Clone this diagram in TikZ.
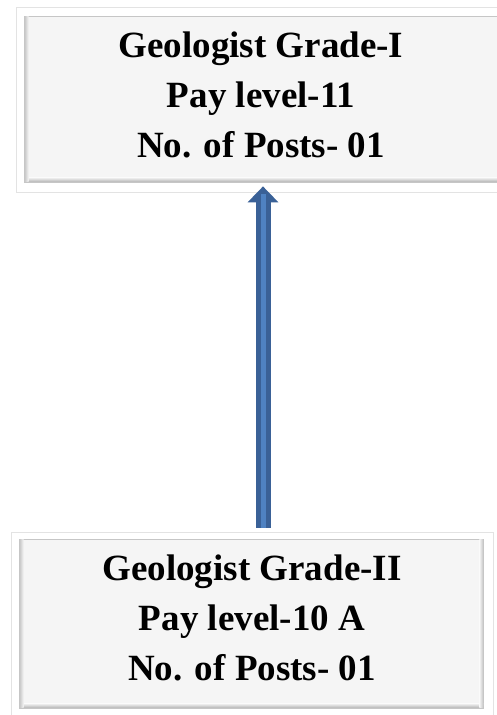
\documentclass[tikz,border=0pt]{standalone}
\usepackage{fontspec}
\setmainfont{Liberation Serif}
\usetikzlibrary{shadows,arrows.meta,calc}
\definecolor{boxfill}{HTML}{F5F5F5}
\definecolor{arrdark}{HTML}{3A6197}
\definecolor{arrlight}{HTML}{4F82C2}
\begin{document}
\begin{tikzpicture}[x=1pt,y=1pt,
  frame/.style={draw=gray!22, line width=0.8pt, fill=white,
    drop shadow={opacity=0.25, shadow xshift=0.8pt, shadow yshift=-1.2pt}},
  inner/.style={fill=boxfill, draw=gray!45, line width=0.8pt},
  lbl/.style={font=\fontsize{37}{50}\selectfont\bfseries, align=center, inner sep=0pt}]
\useasboundingbox (0,0) rectangle (496,715);
% top box
\node[frame, minimum width=490pt, minimum height=185pt, inner sep=0pt] (top) at (261,615.5) {};
\path[inner] ($(top.south west)+(9,10)$) rectangle ($(top.north east)+(-9,-10)$);
\shade[top color=boxfill, bottom color=gray!60] ($(top.south west)+(9.4,10.4)$) rectangle ($(top.south east)+(-9.4,15)$);
\shade[left color=gray!40, right color=boxfill] ($(top.south west)+(9.4,10.4)$) rectangle ($(top.north west)+(13,-10.4)$);
% bottom box
\node[frame, minimum width=482pt, minimum height=186pt, inner sep=0pt] (bot) at (252,90) {};
\path[inner] ($(bot.south west)+(9,10)$) rectangle ($(bot.north east)+(-10,-8)$);
\shade[top color=boxfill, bottom color=gray!60] ($(bot.south west)+(9.4,10.4)$) rectangle ($(bot.south east)+(-10.4,15)$);
\shade[left color=gray!40, right color=boxfill] ($(bot.south west)+(9.4,10.4)$) rectangle ($(bot.north west)+(13,-8.4)$);
\shade[left color=boxfill, right color=gray!45] ($(bot.south east)+(-14,10.4)$) rectangle ($(bot.north east)+(-10.4,-8.4)$);
% texts
\node[lbl] (toptext) at (261,620.5) {Geologist Grade-I\\Pay level-11\\No. of Posts- 01};
\node[lbl] (bottext) at (252,97.5) {Geologist Grade-II\\Pay level-10 A\\No. of Posts- 01};
% arrow
\coordinate (as) at ([xshift=11pt,yshift=4pt]bot.north);
\coordinate (ae) at ([xshift=2pt,yshift=6pt]top.south);
\draw[line width=15pt, arrdark, -{Triangle[width=30pt,length=16pt]}] (as) -- (ae);
\draw[line width=5pt, arrlight] (as) -- ([yshift=-8pt]ae);
\end{tikzpicture}
\end{document}
